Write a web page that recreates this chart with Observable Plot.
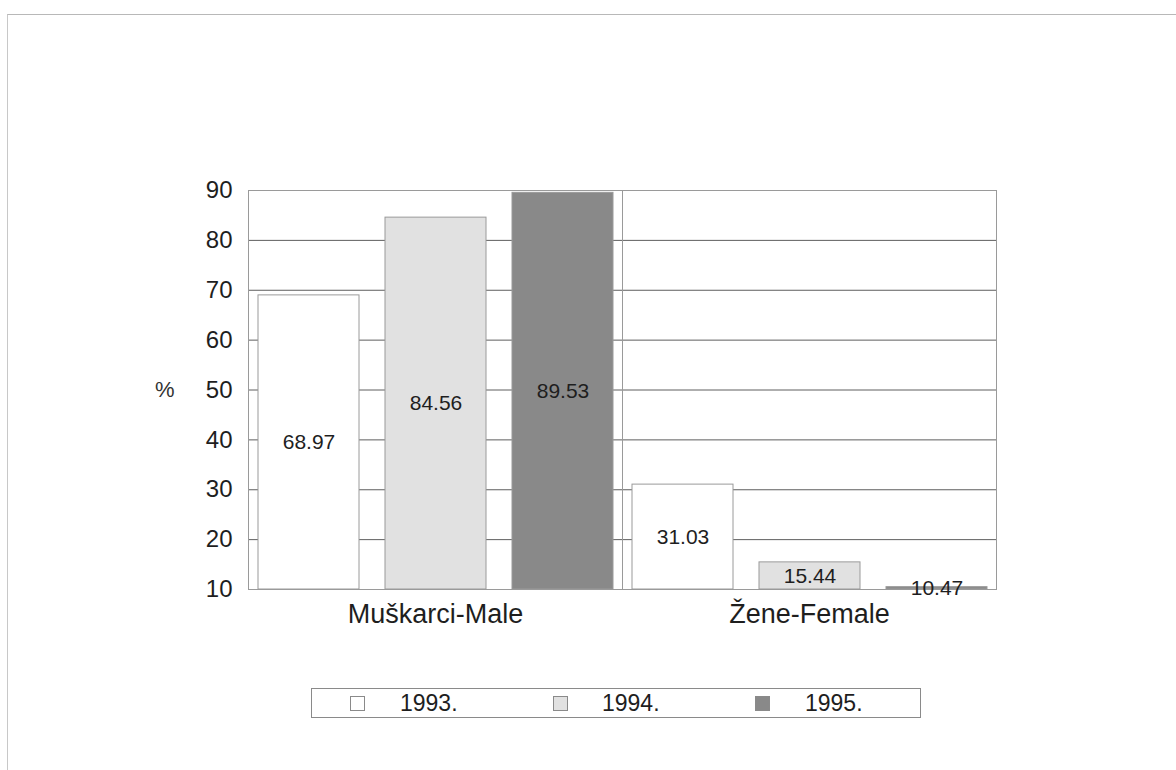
<!DOCTYPE html>
<html>
<head>
<meta charset="utf-8">
<script src="https://cdn.jsdelivr.net/npm/d3@7"></script>
<script src="https://cdn.jsdelivr.net/npm/@observablehq/plot@0.6"></script>
<style>
  html, body { margin: 0; padding: 0; background: #fff; }
  #wrap { position: relative; width: 1176px; height: 770px; overflow: hidden; font-family: "Liberation Sans", Arial, sans-serif; }
  #border { position: absolute; left: 7px; top: 14px; right: -2px; bottom: -2px; border-top: 1px solid #b8b8b8; border-left: 1px solid #c8c8c8; }
  #chart { position: absolute; left: 0; top: 0; }
  #legend { position: absolute; left: 311px; top: 688px; width: 610px; height: 30px; border: 1px solid #8a8a8a; box-sizing: border-box; }
  .sw { position: absolute; top: 7px; width: 15px; height: 15px; border: 1px solid #8a8a8a; box-sizing: border-box; }
  .lt { position: absolute; top: 1px; font-size: 23px; line-height: 26px; color: #1e1e1e; }
</style>
</head>
<body>
<div id="wrap">
  <div id="border"></div>
  <div id="chart"></div>
  <div id="legend"></div>
</div>
<script>
const categories = ["Muškarci-Male", "Žene-Female"];
const years = ["1993.", "1994.", "1995."];
const values1993 = [68.97, 31.03];
const values1994 = [84.56, 15.44];
const values1995 = [89.53, 10.47];
const yTicks = [10, 20, 30, 40, 50, 60, 70, 80, 90];
const colors = ["#ffffff", "#e1e1e1", "#898989"];

const series = [values1993, values1994, values1995];
const data = [];
categories.forEach((c, i) => {
  years.forEach((y, j) => data.push({category: c, year: y, value: series[j][i]}));
});

const font = "'Liberation Sans', Arial, sans-serif";

const chart = Plot.plot({
  width: 1176,
  height: 650,
  marginLeft: 247,
  marginRight: 180,
  marginTop: 190,
  marginBottom: 61,
  style: {fontFamily: font, background: "transparent", color: "#222"},
  fx: {domain: categories, padding: 0, label: null, axis: null},
  x: {domain: years, axis: null, paddingInner: 0.205, paddingOuter: 0.067},
  y: {domain: [10, 90], axis: null},
  color: {domain: years, range: colors},
  marks: [
    Plot.gridY(yTicks, {stroke: "#5e5e5e", strokeOpacity: 1, strokeWidth: 1}),
    Plot.frame({stroke: "#9a9a9a", strokeWidth: 1}),
    Plot.barY(data, {fx: "category", x: "year", y1: 10, y2: "value", fill: "year", stroke: "#9a9a9a", strokeWidth: 1}),
    Plot.text(data, {fx: "category", x: "year", y: d => (d.value + 10) / 2, text: d => d.value.toFixed(2), fontSize: 21, fill: "#1e1e1e"}),
    Plot.axisY(yTicks, {tickSize: 0, tickPadding: 16, fontSize: 24, label: null, tickFormat: d => d, fill: "#1e1e1e"}),
    Plot.axisFx({anchor: "bottom", tickSize: 0, tickPadding: 14, fontSize: 27, label: null, fill: "#1e1e1e"}),
    Plot.text(["%"], {fx: [categories[0]], frameAnchor: "left", dx: -74, textAnchor: "end", text: d => d, fontSize: 22, fill: "#333"})
  ]
});
document.getElementById("chart").appendChild(chart);

const legend = document.getElementById("legend");
const swX = [38, 241, 443];
const txX = [88, 290, 493];
years.forEach((y, i) => {
  const s = document.createElement("div");
  s.className = "sw";
  s.style.left = swX[i] + "px";
  s.style.background = colors[i];
  legend.appendChild(s);
  const t = document.createElement("div");
  t.className = "lt";
  t.style.left = txX[i] + "px";
  t.textContent = y;
  legend.appendChild(t);
});
</script>
</body>
</html>
